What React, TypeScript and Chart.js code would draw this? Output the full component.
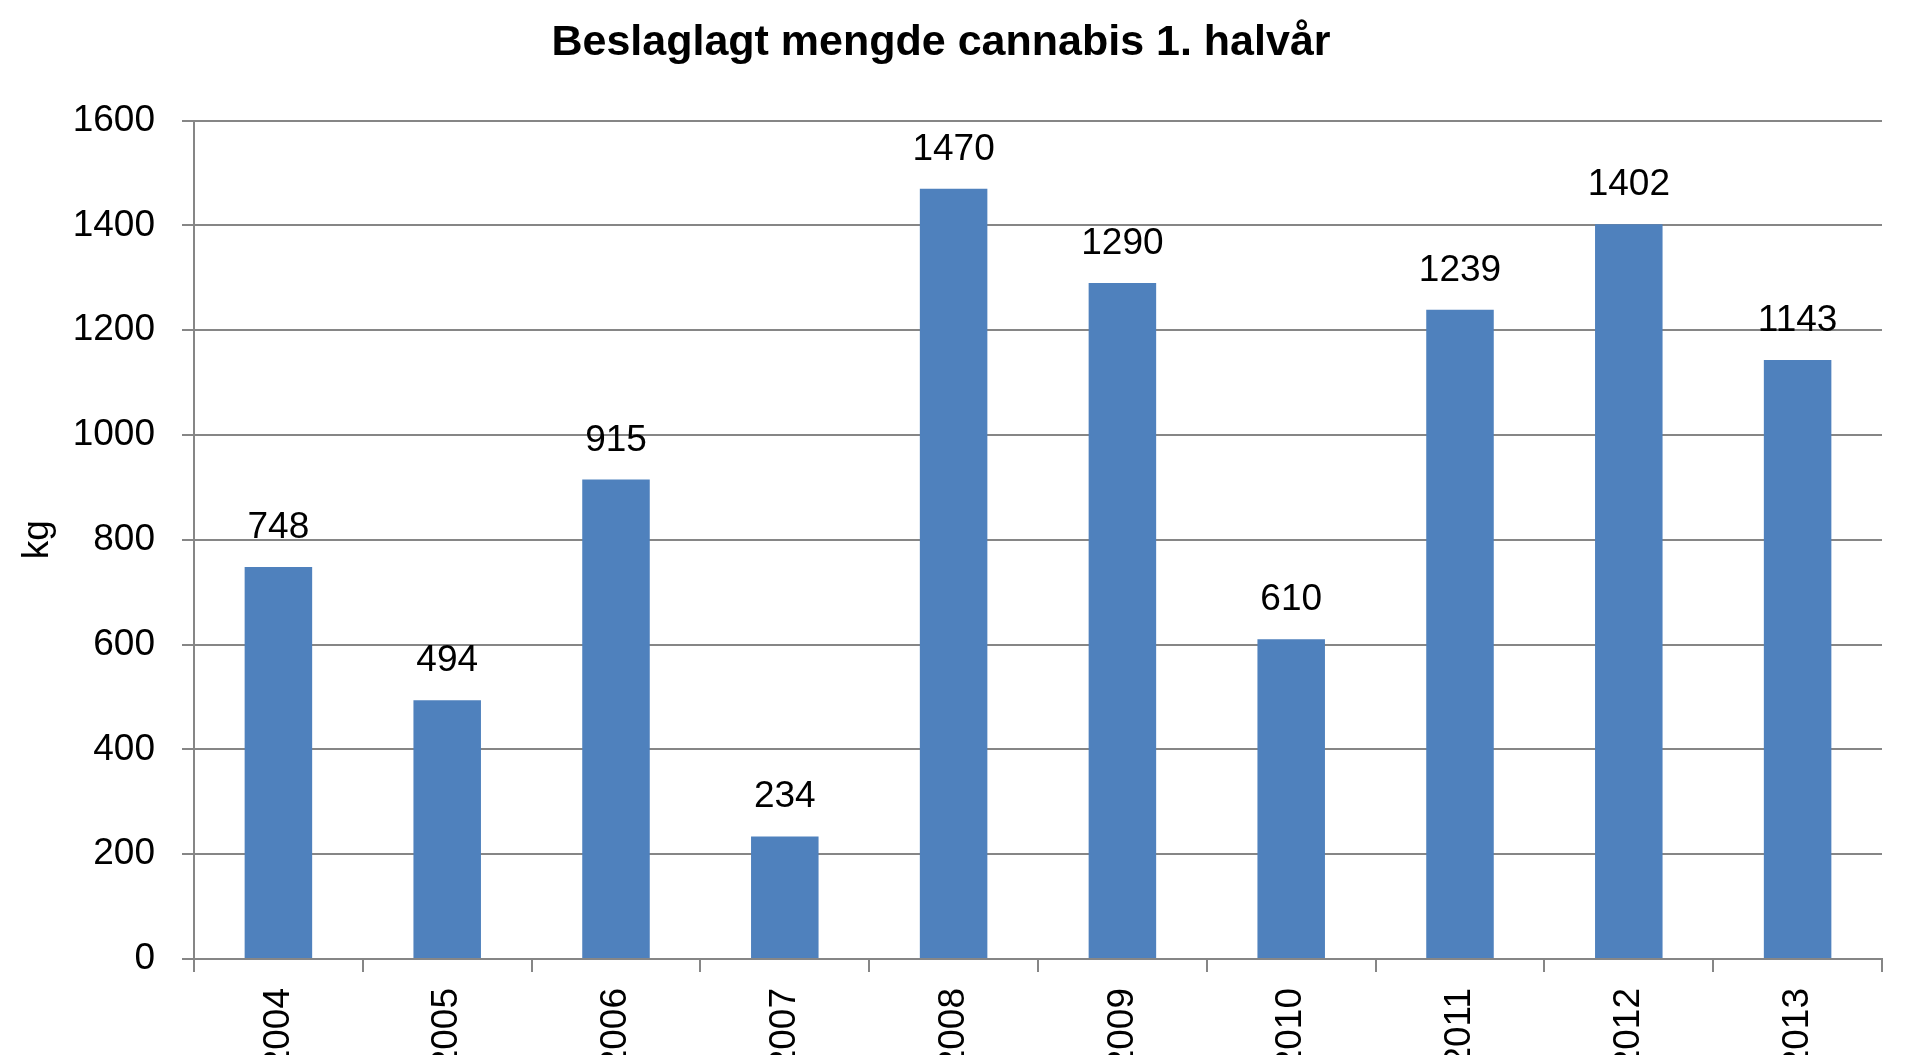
import React, { useEffect, useRef } from "react";
import { Chart, registerables } from "chart.js";

Chart.register(...registerables);

const categories = ["2004", "2005", "2006", "2007", "2008", "2009", "2010", "2011", "2012", "2013"];
const values = [748, 494, 915, 234, 1470, 1290, 610, 1239, 1402, 1143];
const titleText = "Beslaglagt mengde cannabis 1. halvår";
const yAxisLabel = "kg";
const yMin = 0;
const yMax = 1600;
const yStep = 200;

const FONT = '"Liberation Sans", Arial, sans-serif';
const GRID = "#868686";
const BAR = "#4F81BD";

const CANVAS_W = 1905;
const CANVAS_H = 1200;

const valueLabels = {
  id: "valueLabels",
  afterDatasetsDraw(chart: any) {
    const ctx = chart.ctx;
    const meta = chart.getDatasetMeta(0);
    ctx.save();
    ctx.font = `37px ${FONT}`;
    ctx.fillStyle = "#000";
    ctx.textAlign = "center";
    ctx.textBaseline = "alphabetic";
    meta.data.forEach((bar: any, i: number) => {
      ctx.fillText(String(values[i]), bar.x, bar.y - 29);
    });
    ctx.restore();
  },
};

export default function App() {
  const ref = useRef<HTMLCanvasElement>(null);

  useEffect(() => {
    if (!ref.current) return;
    const chart = new Chart(ref.current, {
      type: "bar",
      data: {
        labels: categories,
        datasets: [
          {
            data: values,
            backgroundColor: BAR,
            borderWidth: 0,
            barPercentage: 0.4,
            categoryPercentage: 1.0,
          },
        ],
      },
      options: {
        responsive: false,
        animation: false,
        devicePixelRatio: 1,
        layout: { padding: { left: 0, right: 23, top: 0, bottom: 0 } },
        plugins: {
          legend: { display: false },
          tooltip: { enabled: false },
          title: {
            display: true,
            text: titleText,
            color: "#000",
            font: { family: FONT, size: 43, weight: "bold" },
            padding: { top: 17, bottom: 52 },
          },
        },
        scales: {
          x: {
            type: "category",
            afterFit(scale: any) {
              scale.height = CANVAS_H - 959;
            },
            grid: {
              display: true,
              drawOnChartArea: false,
              drawTicks: true,
              tickLength: 13,
              color: GRID,
              lineWidth: 2,
              offset: true,
            },
            border: { display: true, color: GRID, width: 2 },
            ticks: {
              color: "#000",
              font: { family: FONT, size: 37 },
              minRotation: 90,
              maxRotation: 90,
              autoSkip: false,
              padding: 16,
            },
          },
          y: {
            min: yMin,
            max: yMax,
            afterFit(scale: any) {
              scale.width = 194;
            },
            grid: {
              color: GRID,
              lineWidth: 2,
              tickLength: 12,
              drawTicks: true,
            },
            border: { display: true, color: GRID, width: 2 },
            ticks: {
              stepSize: yStep,
              color: "#000",
              font: { family: FONT, size: 37 },
              padding: 27,
              callback: (v: any) => String(v),
            },
            title: {
              display: true,
              text: yAxisLabel,
              color: "#000",
              font: { family: FONT, size: 37 },
              padding: { top: 16, bottom: 0 },
            },
          },
        },
      },
      plugins: [valueLabels],
    });
    return () => chart.destroy();
  }, []);

  return (
    <div
      style={{
        position: "fixed",
        left: 0,
        top: 0,
        width: CANVAS_W,
        height: 1055,
        overflow: "hidden",
        background: "#fff",
      }}
    >
      <canvas ref={ref} width={CANVAS_W} height={CANVAS_H} style={{ display: "block" }} />
    </div>
  );
}
